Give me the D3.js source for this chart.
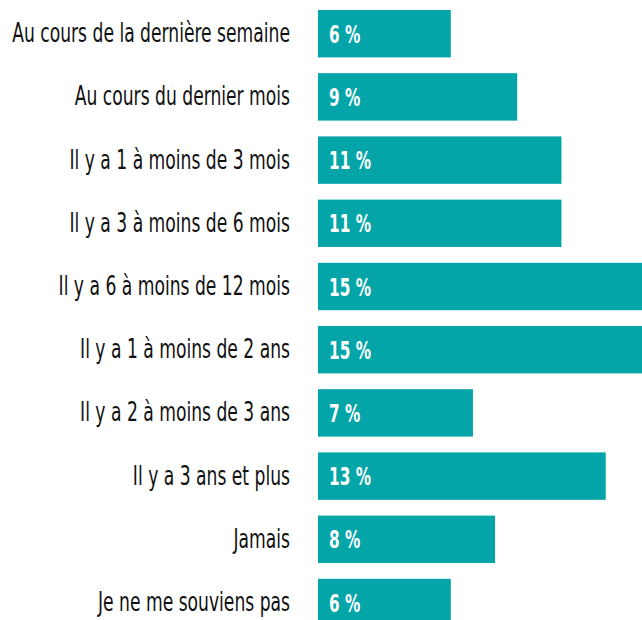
<!DOCTYPE html>
<html>
<head>
<meta charset="utf-8">
<script src="https://cdn.jsdelivr.net/npm/d3@7"></script>
<style>
  html, body { margin: 0; padding: 0; background: #fff; overflow: hidden; }
  svg { display: block; }
</style>
</head>
<body>
<div id="chart"></div>
<script>
// categories and values (percent)
var categories = [
    "Au cours de la dernière semaine",
    "Au cours du dernier mois",
    "Il y a 1 à moins de 3 mois",
    "Il y a 3 à moins de 6 mois",
    "Il y a 6 à moins de 12 mois",
    "Il y a 1 à moins de 2 ans",
    "Il y a 2 à moins de 3 ans",
    "Il y a 3 ans et plus",
    "Jamais",
    "Je ne me souviens pas"
];
var values = [6, 9, 11, 11, 15, 15, 7, 13, 8, 6];

var width = 642, height = 620;
var margin = { top: 10, left: 318 };
var step = 63.2;
var fontFam = '"DejaVu Sans Condensed", "DejaVu Sans", sans-serif';

var svg = d3.select('#chart').append('svg')
    .attr('width', width)
    .attr('height', height);

var x = d3.scaleLinear()
    .domain([0, 15])
    .range([0, 332]);

var y = d3.scaleBand()
    .domain(categories)
    .range([margin.top, margin.top + step * (categories.length - 0.25)])
    .paddingInner(0.25)
    .paddingOuter(0);

var data = categories.map(function (c, i) { return { cat: c, val: values[i] }; });

var row = svg.selectAll('g.row')
    .data(data)
    .enter().append('g')
    .attr('class', 'row');

row.append('rect')
    .attr('x', margin.left)
    .attr('y', function (d) { return y(d.cat); })
    .attr('width', function (d) { return x(d.val); })
    .attr('height', y.bandwidth())
    .attr('fill', '#03a5a8');

// value labels inside the bars
var valText = row.append('text')
    .attr('fill', '#fff')
    .style('font-family', fontFam)
    .style('font-stretch', 'condensed')
    .style('font-weight', 'bold')
    .style('font-size', '24px')
    .text(function (d) { return d.val + ' %'; });

// category labels, right aligned
var catText = row.append('text')
    .attr('text-anchor', 'end')
    .attr('fill', '#111')
    .style('font-family', fontFam)
    .style('font-stretch', 'condensed')
    .style('font-size', '27px')
    .text(function (d) { return d.cat; });

// squeeze the text horizontally to look like the narrow face of the original
var catW = catText.filter(function (d, i) { return i === 0; }).node().getComputedTextLength();
var catK = 278 / catW;
catText.attr('transform', function (d) {
    return 'translate(290,' + (y(d.cat) + y.bandwidth() / 2 + 8.5) + ') scale(' + catK + ',1)';
});

var valW = valText.filter(function (d, i) { return i === 4; }).node().getComputedTextLength();
var valK = 42 / valW;
valText.attr('transform', function (d) {
    return 'translate(329,' + (y(d.cat) + y.bandwidth() / 2 + 9) + ') scale(' + valK + ',1)';
});
</script>
</body>
</html>
